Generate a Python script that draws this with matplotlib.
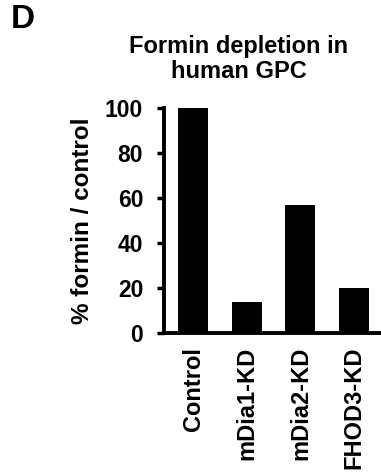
import matplotlib.pyplot as plt

categories = ['Control', 'mDia1-KD', 'mDia2-KD', 'FHOD3-KD']
values = [100, 14, 57, 20]
yticks = [0, 20, 40, 60, 80, 100]

plt.rcParams['font.family'] = 'Liberation Sans'
plt.rcParams['font.weight'] = 'bold'

W, H = 381, 473
fig = plt.figure(figsize=(W / 100, H / 100), dpi=100)
ax = fig.add_axes([164 / W, 1 - 333 / H, 1 - 164 / W, (333 - 108) / H])

x = range(len(categories))
ax.bar(x, values, width=0.56, color='black')

ax.set_xlim(-0.54, 3.5)
ax.set_ylim(0, 100)
ax.set_yticks(yticks)
ax.set_yticklabels([str(t) for t in yticks], fontsize=16.5, fontweight='bold')
ax.set_xticks(list(x))
ax.set_xticklabels(categories, rotation=90, fontsize=17, fontweight='bold')
ax.tick_params(axis='x', length=0, pad=10)
ax.tick_params(axis='y', length=5, width=2.5, pad=10)

for s in ['top', 'right']:
    ax.spines[s].set_visible(False)
for s in ['left', 'bottom']:
    ax.spines[s].set_linewidth(2.8)

ax.set_ylabel('% formin / control', fontsize=17.5, fontweight='bold', labelpad=8)

fig.text(239 / W, 1 - 59 / H, 'Formin depletion in\nhuman GPC', ha='center', va='center',
         fontsize=17, fontweight='bold', linespacing=1.12)
fig.text(11 / W, 1 - 20 / H, 'D', ha='left', va='center', fontsize=24, fontweight='bold')

fig.savefig('out.png', dpi=100)
